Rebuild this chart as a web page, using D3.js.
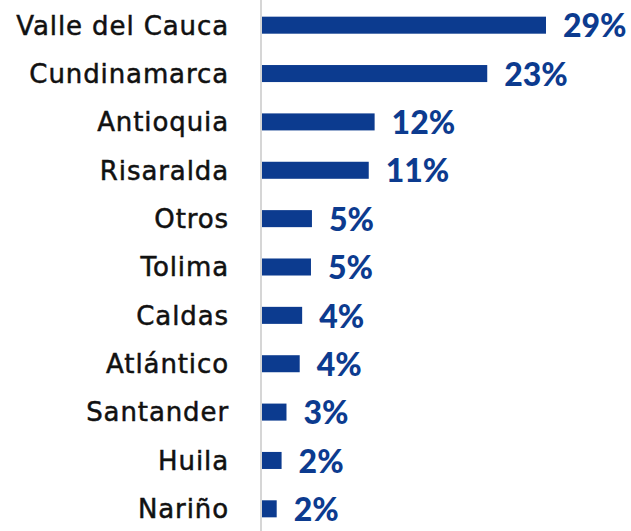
<!DOCTYPE html>
<html>
<head>
<meta charset="utf-8">
<script src="https://cdn.jsdelivr.net/npm/d3@7"></script>
<style>
  body { margin: 0; background: #fff; }
</style>
</head>
<body>
<svg id="chart"></svg>
<script>
// Departamentos y su participación (%)
const departamentos = ["Valle del Cauca", "Cundinamarca", "Antioquia", "Risaralda", "Otros",
  "Tolima", "Caldas", "Atlántico", "Santander", "Huila", "Nariño"];
const participacion = [29, 23, 11.5, 10.9, 5.1, 5.0, 4.1, 3.85, 2.5, 2.0, 1.5];

const width = 631;
const height = 531;
const blue = "#0c3b8f";

const svg = d3.select("#chart")
  .attr("width", width)
  .attr("height", height);

const data = departamentos.map((d, i) => ({ name: d, value: participacion[i] }));

const y = d3.scaleBand()
  .domain(departamentos)
  .range([1, 533])
  .paddingInner(0.648)
  .paddingOuter(0.324);

const x = d3.scaleLinear()
  .domain([0, 29])
  .range([262, 546]);

// vertical axis line
svg.append("line")
  .attr("x1", 261).attr("x2", 261)
  .attr("y1", 0).attr("y2", height)
  .style("stroke", "#d6d6d6")
  .style("stroke-width", 2);

const rows = svg.selectAll(".row")
  .data(data)
  .enter()
  .append("g")
  .attr("class", "row");

rows.append("rect")
  .attr("x", x(0))
  .attr("y", d => y(d.name))
  .attr("width", d => x(d.value) - x(0))
  .attr("height", y.bandwidth())
  .style("fill", blue);

rows.append("text")
  .attr("x", 229)
  .attr("y", d => y(d.name) + y.bandwidth() / 2)
  .attr("dy", "0.36em")
  .style("text-anchor", "end")
  .style("font-family", "'DejaVu Sans', sans-serif")
  .style("font-size", "26px")
  .style("letter-spacing", "0.9px")
  .style("fill", "#111")
  .style("stroke", "#111")
  .style("stroke-width", 0.5)
  .text(d => d.name);

rows.append("text")
  .attr("x", d => x(d.value) + 17)
  .attr("y", d => y(d.name) + y.bandwidth() / 2)
  .attr("dy", "0.38em")
  .style("font-family", "Lato, sans-serif")
  .style("font-weight", "900")
  .style("font-size", "32px")
  .style("fill", blue)
  .text(d => Math.round(d.value) + "%");
</script>
</body>
</html>
